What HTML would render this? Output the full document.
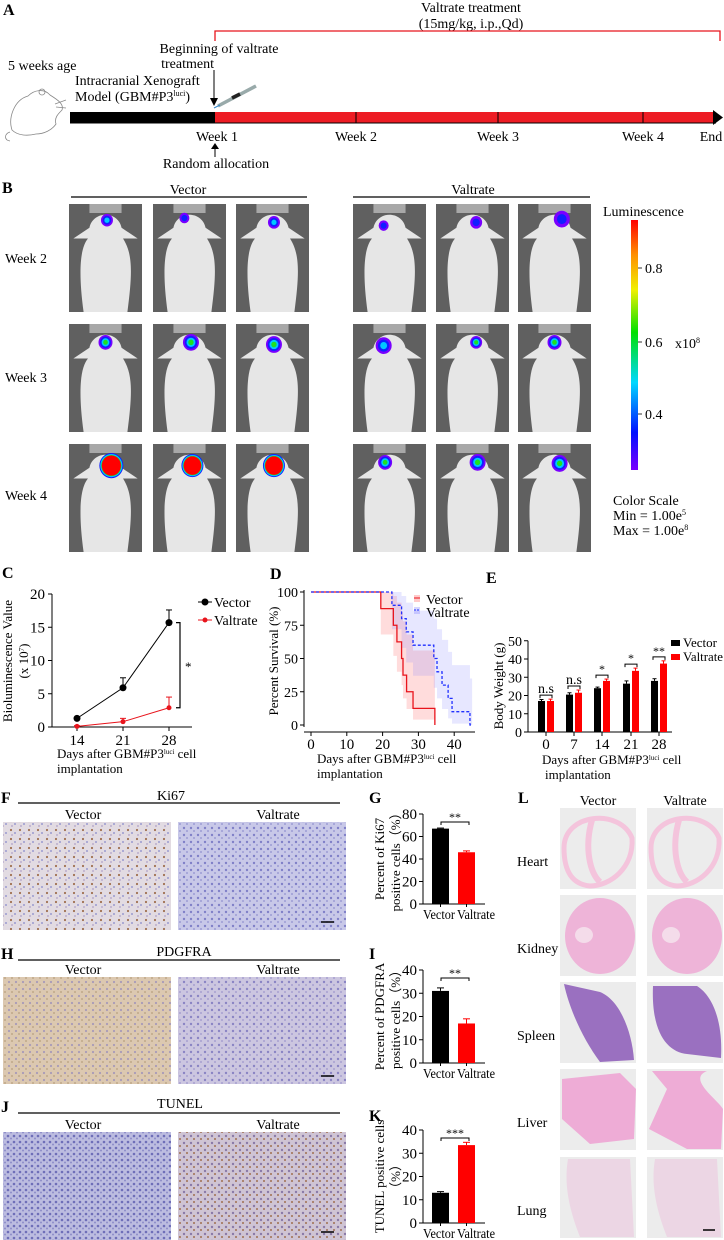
<!DOCTYPE html>
<html><head><meta charset="utf-8">
<style>
html,body{margin:0;padding:0;background:#fff;}
svg{display:block;font-family:"Liberation Serif",serif;}
</style></head>
<body>
<svg id="fig" width="724" height="1240" viewBox="0 0 724 1240" xmlns="http://www.w3.org/2000/svg">
<defs>
<linearGradient id="lumgrad" x1="0" y1="1" x2="0" y2="0">
<stop offset="0" stop-color="#7a00ff"/><stop offset="0.15" stop-color="#0010ff"/><stop offset="0.35" stop-color="#00d8ff"/><stop offset="0.55" stop-color="#00e000"/><stop offset="0.72" stop-color="#f0f000"/><stop offset="0.86" stop-color="#ff9000"/><stop offset="1" stop-color="#ff0000"/>
</linearGradient>
<pattern id="pKiV" width="9" height="9" patternUnits="userSpaceOnUse"><rect width="9" height="9" fill="#e2dbe2"/><circle cx="2" cy="2" r="1.1" fill="#a07050"/><circle cx="6" cy="5" r="1" fill="#9a9ad0"/><circle cx="3" cy="7" r="0.9" fill="#b0a0c8"/></pattern>
<pattern id="pKiT" width="7" height="7" patternUnits="userSpaceOnUse"><rect width="7" height="7" fill="#c8c8e8"/><circle cx="2" cy="2" r="1.2" fill="#8080c8"/><circle cx="5" cy="5" r="1" fill="#9c9cd4"/></pattern>
<pattern id="pPdV" width="7" height="7" patternUnits="userSpaceOnUse"><rect width="7" height="7" fill="#dcc8b0"/><circle cx="2" cy="2" r="1.1" fill="#a89ab8"/><circle cx="5" cy="5" r="1" fill="#c0a888"/></pattern>
<pattern id="pPdT" width="7" height="7" patternUnits="userSpaceOnUse"><rect width="7" height="7" fill="#ccc6e0"/><circle cx="2" cy="2" r="1.2" fill="#8a84c4"/><circle cx="5" cy="5" r="1" fill="#a8a0d0"/></pattern>
<pattern id="pTuV" width="6" height="6" patternUnits="userSpaceOnUse"><rect width="6" height="6" fill="#bcbce0"/><circle cx="2" cy="2" r="1.3" fill="#6e6eb8"/><circle cx="5" cy="4.5" r="1" fill="#8c8cc8"/></pattern>
<pattern id="pTuT" width="7" height="7" patternUnits="userSpaceOnUse"><rect width="7" height="7" fill="#cfc4d4"/><circle cx="2" cy="2" r="1.2" fill="#8a7aa8"/><circle cx="5" cy="5" r="1" fill="#a07050"/></pattern>
</defs>

<!-- Panel A -->
<g font-size="14">
<text x="3" y="15" font-weight="bold" font-size="16">A</text>
<text x="471" y="12" text-anchor="middle">Valtrate treatment</text>
<text x="471" y="28" text-anchor="middle">(15mg/kg, i.p.,Qd)</text>
<path d="M215 41 V31 H720 V41" fill="none" stroke="#e8141c" stroke-width="1.3"/>
<text x="219" y="53" text-anchor="middle">Beginning of valtrate</text>
<text x="214" y="68" text-anchor="end">treatment</text>
<text x="8" y="70">5 weeks age</text>
<text x="75" y="85">Intracranial Xenograft</text>
<text x="75" y="101">Model (GBM#P3<tspan font-size="8" dy="-5">luci</tspan><tspan dy="5">)</tspan></text>
<path d="M214 70 V100" stroke="#000" stroke-width="1"/><path d="M210 98 L214 106 L218 98 Z" fill="#000"/>
<g fill="none" stroke="#888" stroke-width="0.8">
<path d="M12 130 C8 118 14 100 28 96 C34 90 44 88 50 95 C58 100 64 104 62 110 C58 114 54 118 56 124 C52 130 44 134 36 134 C28 136 18 136 12 130 Z"/>
<circle cx="42" cy="92" r="3"/><path d="M10 132 C4 134 4 140 10 141"/><path d="M55 104 L66 100 M56 107 L66 108"/>
</g>
<g><path d="M218 106 L256 86" stroke="#9aa" stroke-width="3.5"/><path d="M232 98 L240 94" stroke="#222" stroke-width="3.5"/><path d="M214 108 L220 105" stroke="#38c" stroke-width="1"/></g>
<rect x="70" y="112" width="145" height="11" fill="#000"/>
<rect x="215" y="112" width="500" height="11" fill="#ed1c24"/>
<path d="M713 110 L723 117.5 L713 125 Z" fill="#000"/>
<line x1="70" y1="123" x2="716" y2="123" stroke="#000" stroke-width="1"/>
<g stroke="#000" stroke-width="1"><line x1="356" y1="112" x2="356" y2="123"/><line x1="498" y1="112" x2="498" y2="123"/><line x1="643" y1="112" x2="643" y2="123"/></g>
<text x="217" y="141" text-anchor="middle">Week 1</text>
<text x="356" y="141" text-anchor="middle">Week 2</text>
<text x="498" y="141" text-anchor="middle">Week 3</text>
<text x="643" y="141" text-anchor="middle">Week 4</text>
<text x="711" y="141" text-anchor="middle">End</text>
<path d="M215 157 V147" stroke="#000"/><path d="M211 149 L215 143 L219 149 Z" fill="#000"/>
<text x="216" y="168" text-anchor="middle">Random allocation</text>
</g>

<!-- Panel B -->
<g font-size="14">
<text x="2" y="193" font-weight="bold" font-size="16">B</text>
<text x="188" y="194" text-anchor="middle">Vector</text>
<line x1="71" y1="197" x2="307" y2="197" stroke="#000" stroke-width="1.2"/>
<text x="473" y="194" text-anchor="middle">Valtrate</text>
<line x1="353" y1="197" x2="590" y2="197" stroke="#000" stroke-width="1.2"/>
<text x="5" y="263">Week 2</text>
<text x="5" y="382">Week 3</text>
<text x="5" y="500">Week 4</text>
<g id="mice"></g>
<text x="603" y="216">Luminescence</text>
<rect x="631" y="220" width="7" height="250" fill="url(#lumgrad)"/>
<g stroke="#000" stroke-width="0.8"><line x1="638" y1="268" x2="642" y2="268"/><line x1="638" y1="342" x2="642" y2="342"/><line x1="638" y1="414" x2="642" y2="414"/></g>
<text x="645" y="273">0.8</text>
<text x="645" y="347">0.6</text>
<text x="645" y="419">0.4</text>
<text x="675" y="348">x10<tspan font-size="8" dy="-5">8</tspan></text>
<text x="613" y="505">Color Scale</text>
<text x="613" y="520">Min = 1.00e<tspan font-size="8" dy="-5">5</tspan></text>
<text x="613" y="535">Max = 1.00e<tspan font-size="8" dy="-5">8</tspan></text>
</g>

<g id="panelC" font-size="13">
<text x="2" y="578" font-weight="bold" font-size="16">C</text>
</g>
<g id="panelD" font-size="13">
<text x="270" y="579" font-weight="bold" font-size="16">D</text>
</g>
<g id="panelE" font-size="13">
<text x="486" y="583" font-weight="bold" font-size="16">E</text>
</g>

<g font-size="14">
<text x="1" y="803" font-weight="bold" font-size="16">F</text>
<text x="171" y="800" text-anchor="middle">Ki67</text>
<line x1="18" y1="803" x2="340" y2="803" stroke="#000" stroke-width="1.2"/>
<text x="83" y="819" text-anchor="middle">Vector</text>
<text x="278" y="819" text-anchor="middle">Valtrate</text>
<rect x="3" y="822" width="168" height="108" fill="url(#pKiV)"/>
<rect x="178" y="822" width="168" height="108" fill="url(#pKiT)"/>
<line x1="321" y1="922" x2="334" y2="922" stroke="#000" stroke-width="1.5"/>
</g>
<g font-size="14">
<text x="1" y="959" font-weight="bold" font-size="16">H</text>
<text x="184" y="956" text-anchor="middle">PDGFRA</text>
<line x1="18" y1="960" x2="340" y2="960" stroke="#000" stroke-width="1.2"/>
<text x="83" y="974" text-anchor="middle">Vector</text>
<text x="278" y="974" text-anchor="middle">Valtrate</text>
<rect x="3" y="977" width="168" height="107" fill="url(#pPdV)"/>
<rect x="178" y="977" width="168" height="107" fill="url(#pPdT)"/>
<line x1="321" y1="1076" x2="334" y2="1076" stroke="#000" stroke-width="1.5"/>
</g>
<g font-size="14">
<text x="1" y="1112" font-weight="bold" font-size="16">J</text>
<text x="180" y="1108" text-anchor="middle">TUNEL</text>
<line x1="18" y1="1113" x2="340" y2="1113" stroke="#000" stroke-width="1.2"/>
<text x="83" y="1129" text-anchor="middle">Vector</text>
<text x="278" y="1129" text-anchor="middle">Valtrate</text>
<rect x="3" y="1132" width="168" height="108" fill="url(#pTuV)"/>
<rect x="178" y="1132" width="168" height="108" fill="url(#pTuT)"/>
<line x1="321" y1="1232" x2="334" y2="1232" stroke="#000" stroke-width="1.5"/>
</g>

<g id="panelG" font-size="13"><text x="369" y="803" font-weight="bold" font-size="16">G</text></g>
<g id="panelI" font-size="13"><text x="369" y="959" font-weight="bold" font-size="16">I</text></g>
<g id="panelK" font-size="13"><text x="369" y="1121" font-weight="bold" font-size="16">K</text></g>

<g font-size="14">
<text x="518" y="803" font-weight="bold" font-size="16">L</text>
<text x="598" y="805" text-anchor="middle">Vector</text>
<text x="685" y="805" text-anchor="middle">Valtrate</text>
<g id="organs"></g>
<line x1="703" y1="1230" x2="715" y2="1230" stroke="#000" stroke-width="1.5"/>
</g>
</svg>

<script>
const NS="http://www.w3.org/2000/svg";
function el(tag,attrs,parent,txt){const e=document.createElementNS(NS,tag);for(const k in attrs)e.setAttribute(k,attrs[k]);if(txt!==undefined)e.textContent=txt;parent.appendChild(e);return e;}

// ---- Panel B mice ----
const miceCols=[69,153,236,353,436,518];
const miceRows=[204,324,444];
const blobX=[[0.52,0.43,0.52,0.42,0.55,0.6],[0.5,0.52,0.52,0.42,0.55,0.5],[0.58,0.54,0.52,0.44,0.57,0.57]];
const blobY=[[0.15,0.13,0.17,0.2,0.17,0.14],[0.17,0.17,0.19,0.2,0.17,0.17],[0.2,0.2,0.2,0.17,0.17,0.18]];
const blobR=[[6,5,6,5,6,8],[7,8,8,8,6,7],[12,11,11,7,8,8]];
const blobI=[[2,1,2,1,1,1],[3,3,3,2,3,3],[5,5,4,3,3,3]];
const mg=document.getElementById('mice');
const ringCols=['#7a00ff','#1020ff','#00c8ff','#20e020','#ffe000','#ff0000'];
for(let r=0;r<3;r++)for(let c=0;c<6;c++){
 const x=miceCols[c],y=miceRows[r],w=73,h=108;
 const g=el('g',{},mg);
 
 
 el('rect',{x:x,y:y,width:w,height:h,fill:'#606060'},g);
 el('rect',{x:x+w*0.28,y:y,width:w*0.44,height:9,fill:'#a8a8a8'},g);
 el('path',{d:`M${x+w*0.2} ${y+h} C${x+w*0.12} ${y+h*0.6} ${x+w*0.16} ${y+h*0.4} ${x+w*0.26} ${y+h*0.32} L${x+w*0.06} ${y+h*0.32} L${x+w*0.28} ${y+h*0.22} C${x+w*0.33} ${y+h*0.06} ${x+w*0.67} ${y+h*0.06} ${x+w*0.72} ${y+h*0.22} L${x+w*0.94} ${y+h*0.32} L${x+w*0.74} ${y+h*0.32} C${x+w*0.86} ${y+h*0.45} ${x+w*0.88} ${y+h*0.6} ${x+w*0.8} ${y+h} Z`,fill:'#e6e6e6'},g);
 const cx=x+w*blobX[r][c],cy=y+h*blobY[r][c],R=blobR[r][c],I=blobI[r][c];
 const n=I+1;
 for(let k=0;k<n;k++){
  const col=ringCols[Math.min(5,k+(I>=4?1:0))];
  const f=I>=4?(k===0?1:k===n-1?0.8:1-k*0.08):(1-k/(n+0.5));
  el('ellipse',{cx:cx,cy:cy,rx:R*f,ry:R*f*1.05,fill:k===n-1&&I>=4?'#ff0000':col},g);
 }
}

// ---- Panel C ----
const cDays=[14,21,28];
const cVector=[1.3,5.9,15.7];
const cVectorErr=[0.1,1.5,1.9];
const cValtrate=[0.1,0.8,2.9];
const cValtrateErr=[0.1,0.5,1.6];
const cYTicks=[0,5,10,15,20];
(function(){
 const g=document.getElementById('panelC');
 const X=d=>77+(d-14)*(169-77)/14, Y=v=>727-v*(727-594)/20;
 el('line',{x1:52,y1:594,x2:52,y2:727,stroke:'#000'},g);
 el('line',{x1:52,y1:727,x2:192,y2:727,stroke:'#000'},g);
 cYTicks.forEach(t=>{el('line',{x1:48,y1:Y(t),x2:52,y2:Y(t),stroke:'#000'},g);const tx=el('text',{x:45,y:Y(t)+5,'text-anchor':'end','font-size':15},g,t);});
 cDays.forEach(d=>{el('line',{x1:X(d),y1:727,x2:X(d),y2:731,stroke:'#000'},g);const tx=el('text',{x:X(d),y:745,'text-anchor':'middle','font-size':15},g,d);});
 const t1=el('text',{x:57,y:758},g);t1.innerHTML='Days after GBM#P3<tspan font-size="7" dy="-4">luci</tspan><tspan dy="4">  cell</tspan>';
 
 el('text',{x:57,y:773},g,'implantation');
 const yl=el('text',{transform:'translate(12,661) rotate(-90)','text-anchor':'middle'},g,'Bioluminescence Value');
 
 const yl2=el('text',{transform:'translate(28,661) rotate(-90)','text-anchor':'middle'},g);yl2.innerHTML='(x 10<tspan font-size="7" dy="-4">7</tspan><tspan dy="4">)</tspan>';
 [[cVector,cVectorErr,'#000','vector'],[cValtrate,cValtrateErr,'#e8141c','valtrate']].forEach(([v,e,col,nm])=>{
  const p=el('polyline',{points:cDays.map((d,i)=>X(d)+','+Y(v[i])).join(' '),fill:'none',stroke:col,'stroke-width':1},g);
  
  cDays.forEach((d,i)=>{
   el('line',{x1:X(d),y1:Y(v[i]),x2:X(d),y2:Y(v[i]+e[i]),stroke:col},g);
   el('line',{x1:X(d)-3,y1:Y(v[i]+e[i]),x2:X(d)+3,y2:Y(v[i]+e[i]),stroke:col},g);
   const m=el('circle',{cx:X(d),cy:Y(v[i]),r:nm==='vector'?3.5:2.5,fill:col},g);
   
  });
 });
 el('path',{d:`M176 ${Y(15.7)} H180 V${Y(2.9)} H176`,fill:'none',stroke:'#000','stroke-width':1.2},g);
 el('text',{x:185,y:671,'font-size':13},g,'*');
 el('line',{x1:198,y1:602,x2:212,y2:602,stroke:'#000'},g);el('circle',{cx:205,cy:602,r:3.5,fill:'#000'},g);
 el('text',{x:214,y:607,'font-size':14},g,'Vector');
 el('line',{x1:198,y1:620,x2:212,y2:620,stroke:'#e8141c'},g);el('circle',{cx:205,cy:620,r:2.5,fill:'#e8141c'},g);
 el('text',{x:214,y:625,'font-size':14},g,'Valtrate');
})();

// ---- Panel D ----
const dVecT=[0,19.5,23,24,25.3,25.7,26.7,28.5,34.6];
const dVecS=[100,87.5,75,62.5,50,37.5,25,12.5,0];
const dVecUp=[100,100,97,92,85,78,68,56,42];
const dVecLo=[100,68,52,40,30,20,12,4,0];
const dValT=[0,22.6,25.3,26.6,28.5,34.3,35.2,36.6,38.3,39.4,44.4];
const dValS=[100,90,80,70,60,50,40,30,20,10,0];
const dValUp=[100,100,97,92,86,80,72,64,55,45,35];
const dValLo=[100,72,58,47,37,28,20,12,5,1,0];
const dXTicks=[0,10,20,30,40];
const dYTicks=[0,25,50,75,100];
(function(){
 const g=document.getElementById('panelD');
 const X=d=>311+d*3.58, Y=v=>725-v*1.33;
 function stepPts(T,S,end){let p=[];for(let i=0;i<T.length;i++){if(i>0)p.push([X(T[i]),Y(S[i-1])]);p.push([X(T[i]),Y(S[i])]);}p.push([X(end),Y(S[S.length-1])]);return p;}
 function band(T,U,L,end,col,nm){const up=stepPts(T,U,end),lo=stepPts(T,L,end).reverse();const b=el('polygon',{points:up.concat(lo).map(p=>p.join(',')).join(' '),fill:col},g);}
 band(dVecT,dVecUp,dVecLo,34.6,'rgba(255,80,80,0.2)','d-ci-vector');
 band(dValT,dValUp,dValLo,45,'rgba(120,120,255,0.18)','d-ci-valtrate');
 el('line',{x1:304,y1:590,x2:304,y2:727,stroke:'#000'},g);
 el('line',{x1:304,y1:732,x2:475,y2:732,stroke:'#000'},g);
 dYTicks.forEach(t=>{el('line',{x1:300,y1:Y(t),x2:304,y2:Y(t),stroke:'#000'},g);const tx=el('text',{x:298,y:Y(t)+5,'text-anchor':'end','font-size':14},g,t);});
 dXTicks.forEach(t=>{el('line',{x1:X(t),y1:732,x2:X(t),y2:736,stroke:'#000'},g);const tx=el('text',{x:X(t),y:749,'text-anchor':'middle','font-size':15},g,t);});
 const vl=el('polyline',{points:stepPts(dVecT,dVecS,34.6).map(p=>p.join(',')).join(' '),fill:'none',stroke:'#e8141c','stroke-width':1.3},g);
 
 const tl=el('polyline',{points:stepPts(dValT,dValS,45).map(p=>p.join(',')).join(' '),fill:'none',stroke:'#2030ff','stroke-width':1.3,'stroke-dasharray':'3,2'},g);
 
 const yl=el('text',{transform:'translate(278,661) rotate(-90)','text-anchor':'middle'},g,'Percent Survival (%)');
 
 const t1=el('text',{x:317,y:763},g);t1.innerHTML='Days after GBM#P3<tspan font-size="7" dy="-4">luci</tspan><tspan dy="4">  cell</tspan>';
 
 el('text',{x:317,y:778},g,'implantation');
 el('rect',{x:414,y:595,width:6,height:7,fill:'rgba(255,80,80,0.3)'},g);el('line',{x1:414,y1:598,x2:420,y2:598,stroke:'#e8141c'},g);
 el('text',{x:426,y:604,'font-size':14},g,'Vector');
 el('rect',{x:414,y:607,width:6,height:7,fill:'rgba(120,120,255,0.3)'},g);el('line',{x1:414,y1:610,x2:420,y2:610,stroke:'#2030ff','stroke-dasharray':'2,1'},g);
 el('text',{x:426,y:617,'font-size':14},g,'Valtrate');
})();

// ---- Panel E ----
const eDays=[0,7,14,21,28];
const eVector=[17,20.5,24,26.5,28];
const eVectorErr=[0.8,1,0.6,1.5,1.2];
const eValtrate=[17,21.5,28,33.5,37.5];
const eValtrateErr=[1,1.5,1,1.5,1.5];
const eSig=['n.s','n.s','*','*','**'];
const eYTicks=[0,10,20,30,40,50];
(function(){
 const g=document.getElementById('panelE');
 const gx=[546,574,602,631,659];
 const Y=v=>732-v*1.825;
 el('line',{x1:528,y1:Y(50),x2:528,y2:732,stroke:'#000'},g);
 el('line',{x1:528,y1:732,x2:672,y2:732,stroke:'#000'},g);
 eYTicks.forEach(t=>{el('line',{x1:524,y1:Y(t),x2:528,y2:Y(t),stroke:'#000'},g);const tx=el('text',{x:522,y:Y(t)+5,'text-anchor':'end','font-size':14},g,t);});
 eDays.forEach((d,i)=>{
  const x=gx[i];
  [[eVector,eVectorErr,'#000',-8,'vector'],[eValtrate,eValtrateErr,'#ff0000',1,'valtrate']].forEach(([v,e,col,off,nm])=>{
   const b=el('rect',{x:x+off,y:Y(v[i]),width:7,height:732-Y(v[i]),fill:col},g);
   
   el('line',{x1:x+off+3.5,y1:Y(v[i]),x2:x+off+3.5,y2:Y(v[i]+e[i]),stroke:col},g);
   el('line',{x1:x+off+1.5,y1:Y(v[i]+e[i]),x2:x+off+5.5,y2:Y(v[i]+e[i]),stroke:col},g);
  });
  const top=Y(Math.max(eVector[i]+eVectorErr[i],eValtrate[i]+eValtrateErr[i]))-4;
  el('path',{d:`M${x-6} ${top+3} V${top} H${x+6} V${top+3}`,fill:'none',stroke:'#000'},g);
  el('text',{x:x,y:top-2,'text-anchor':'middle','font-size':eSig[i]==='n.s'?14:12},g,eSig[i]);
  el('line',{x1:x,y1:732,x2:x,y2:736,stroke:'#000'},g);
  const tx=el('text',{x:x,y:749,'text-anchor':'middle','font-size':15},g,d);
  
 });
 const yl=el('text',{transform:'translate(503,686) rotate(-90)','text-anchor':'middle'},g,'Body Weight (g)');
 
 const t1=el('text',{x:542,y:764},g);t1.innerHTML='Days after GBM#P3<tspan font-size="7" dy="-4">luci</tspan><tspan dy="4">  cell</tspan>';
 
 el('text',{x:545,y:779},g,'implantation');
 el('rect',{x:671,y:640,width:9,height:6,fill:'#000'},g);el('text',{x:683,y:647,'font-size':13},g,'Vector');
 el('rect',{x:671,y:654,width:9,height:6,fill:'#ff0000'},g);el('text',{x:683,y:661,'font-size':13,textLength:40,lengthAdjust:'spacingAndGlyphs'},g,'Valtrate');
})();

// ---- Panels G, I, K ----
const gVals=[67,46];const gErr=[0.5,1.2];const gTicks=[0,20,40,60,80];
const iVals=[31,17];const iErr=[1.3,2];const iTicks=[0,10,20,30,40];
const kVals=[13,33.5];const kErr=[0.5,1.2];const kTicks=[0,10,20,30,40];
const groupNames=['Vector','Valtrate'];
function barPanel(id,vals,errs,ticks,top,bottom,sig,ylab,pre){
 const g=document.getElementById(id);
 const max=ticks[ticks.length-1];
 const Y=v=>bottom-v*(bottom-top)/max;
 const bx=[432,458];
 const lx=[423,457];const lw=[32,38];
 el('line',{x1:423,y1:top,x2:423,y2:bottom,stroke:'#000'},g);
 el('line',{x1:423,y1:bottom,x2:485,y2:bottom,stroke:'#000'},g);
 ticks.forEach(t=>{el('line',{x1:419,y1:Y(t),x2:423,y2:Y(t),stroke:'#000'},g);const tx=el('text',{x:417,y:Y(t)+5,'text-anchor':'end','font-size':15},g,t);});
 vals.forEach((v,i)=>{
  const col=i===0?'#000':'#ff0000';
  const b=el('rect',{x:bx[i],y:Y(v),width:17,height:bottom-Y(v),fill:col},g);
  
  el('line',{x1:bx[i]+8.5,y1:Y(v),x2:bx[i]+8.5,y2:Y(v+errs[i]),stroke:col},g);
  el('line',{x1:bx[i]+5,y1:Y(v+errs[i]),x2:bx[i]+12,y2:Y(v+errs[i]),stroke:col},g);
  el('line',{x1:bx[i]+8.5,y1:bottom,x2:bx[i]+8.5,y2:bottom+3,stroke:'#000'},g);
  const tx=el('text',{x:lx[i],y:bottom+15,'font-size':14,textLength:lw[i],lengthAdjust:'spacingAndGlyphs'},g,groupNames[i]);
  
 });
 const by=top+8;
 el('path',{d:`M441 ${by+3} V${by} H469 V${by+3}`,fill:'none',stroke:'#000'},g);
 el('text',{x:455,y:by-1,'text-anchor':'middle','font-size':12},g,sig);
 ylab.forEach((l,k)=>{const t=el('text',{transform:`translate(${384+k*16},${(top+bottom)/2}) rotate(-90)`,'text-anchor':'middle','font-size':13},g,l);});
}
barPanel('panelG',gVals,gErr,gTicks,814,904,'**',['Percent of Ki67','positive cells（%）'],'g');
barPanel('panelI',iVals,iErr,iTicks,970,1063,'**',['Percent of PDGFRA','positive cells（%）'],'i');
barPanel('panelK',kVals,kErr,kTicks,1130,1223,'***',['TUNEL positive cells','（%）'],'k');

// ---- Panel L organs ----
const organNames=['Heart','Kidney','Spleen','Liver','Lung'];
const organFill=['#f4c4dc','#eeb4d8','#9a70c0','#eeacd6','#ecd6e4'];
const og=document.getElementById('organs');
const oRows=[808,895,982,1069,1157];
organNames.forEach((n,r)=>{
 const lab=el('text',{x:517,y:oRows[r]+58},og,n);
 
 
 [560,647].forEach((x,c)=>{
  const g=el('g',{},og);
  
  
  el('rect',{x:x,y:oRows[r],width:76,height:81,fill:'#ececec'},g);
  const y=oRows[r];
  let d='';
  if(r===0){
   el('path',{d:`M${x+4} ${y+40} C${x+4} ${y+5} ${x+60} ${y} ${x+72} ${y+30} C${x+74} ${y+60} ${x+50} ${y+78} ${x+30} ${y+78} C${x+10} ${y+76} ${x+4} ${y+60} ${x+4} ${y+40} Z`,fill:'none',stroke:organFill[0],'stroke-width':5},g);
   el('path',{d:`M${x+32} ${y+12} C${x+24} ${y+40} ${x+30} ${y+65} ${x+40} ${y+74}`,fill:'none',stroke:organFill[0],'stroke-width':6},g);
  } else if(r===1){
   el('ellipse',{cx:x+40,cy:y+41,rx:35,ry:38,fill:organFill[1]},g);
   el('ellipse',{cx:x+24,cy:y+40,rx:9,ry:8,fill:'#f4dcea'},g);
  } else if(r===2){
   d=c===0?`M${x+4} ${y+2} L${x+40} ${y+10} C${x+60} ${y+18} ${x+72} ${y+50} ${x+74} ${y+78} L${x+40} ${y+80} C${x+25} ${y+60} ${x+10} ${y+30} ${x+4} ${y+2} Z`:`M${x+6} ${y+4} L${x+50} ${y+4} C${x+66} ${y+14} ${x+76} ${y+40} ${x+74} ${y+76} L${x+40} ${y+72} C${x+20} ${y+70} ${x+4} ${y+50} ${x+6} ${y+4} Z`;
   el('path',{d:d,fill:organFill[2]},g);
  } else if(r===3){
   d=c===0?`M${x+2} ${y+10} L${x+60} ${y+4} L${x+76} ${y+20} L${x+74} ${y+70} L${x+30} ${y+75} L${x+2} ${y+50} Z`:`M${x+5} ${y+2} L${x+60} ${y+2} C${x+40} ${y+10} ${x+70} ${y+30} ${x+76} ${y+40} L${x+74} ${y+80} L${x+40} ${y+80} L${x+2} ${y+60} L${x+20} ${y+20} Z`;
   el('path',{d:d,fill:organFill[3]},g);
  } else {
   el('path',{d:`M${x+8} ${y+2} L${x+70} ${y+2} L${x+74} ${y+80} L${x+20} ${y+80} C${x+8} ${y+50} ${x+4} ${y+25} ${x+8} ${y+2} Z`,fill:organFill[4]},g);
  }
 });
});
</script>
</body></html>
